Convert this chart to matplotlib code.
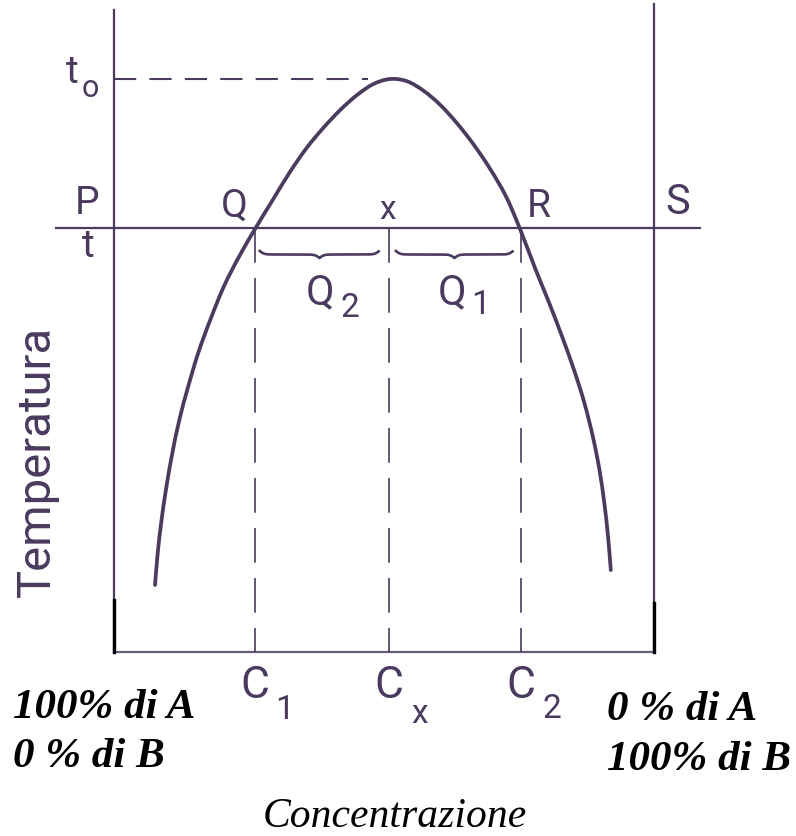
import numpy as np
import matplotlib.pyplot as plt
from matplotlib.path import Path
from matplotlib.patches import PathPatch

plt.rcParams['lines.scale_dashes'] = False

# solubility curve (concentration of B in %, temperature with t0 = 100)
curve_conc = [7.6, 8.1, 8.8, 9.7, 10.8, 12.1, 13.7, 15.6, 17.8, 20.3, 23.1, 26.1,
              29.4, 32.6, 35.7, 38.7, 41.9, 45.0, 48.0, 51.1, 54.3, 57.4, 60.4,
              63.5, 66.5, 69.6, 72.6, 75.2, 78.1, 80.6, 83.0, 85.2, 87.1, 88.7,
              89.9, 90.8, 91.5, 92.0]
curve_temp = [11.7, 17.3, 23.0, 28.8, 34.7, 40.5, 46.2, 52.2, 57.9, 63.7, 68.9, 73.8,
              78.9, 83.8, 88.0, 91.4, 94.6, 97.2, 99.1, 100.0, 99.6, 97.9, 95.5,
              92.3, 88.7, 84.4, 79.5, 73.8, 66.7, 60.9, 55.0, 49.2, 43.5, 37.5,
              31.8, 26.0, 20.1, 14.3]

t0 = 100.0
t_level = 74.0
c_marks = [26.1, 50.9, 75.4]          # C1, Cx, C2
c_labels = [('C', '1'), ('C', 'x'), ('C', '2')]

line_col = '#4b3b5d'
text_col = '#4a3b5e'
sans = dict(family=['Roboto', 'DejaVu Sans'], weight='normal', color=text_col)
serif = dict(family=['Liberation Serif', 'DejaVu Serif'], color='black')

fig = plt.figure(figsize=(7.96, 8.36), dpi=100)
ax = fig.add_axes([0, 0, 1, 1])
ax.set_xlim(-21.11, 126.30)
ax.set_ylim(-32.11, 113.79)
ax.axis('off')

# frame: two verticals, bottom line, black feet
ax.plot([0, 0], [0, 112.0], color=line_col, lw=1.6)
ax.plot([100, 100], [0, 113.1], color=line_col, lw=1.6)
ax.plot([0, 100], [0, 0], color='#6a5c78', lw=1.6)
ax.plot([0, 0], [0, 9.0], color='black', lw=2.4)
ax.plot([100, 100], [0, 8.6], color='black', lw=2.4)

# isotherm t and t0
ax.plot([-10.7, 108.5], [t_level, t_level], color=line_col, lw=1.6)
ax.plot([0, 47.0], [t0, t0], color=line_col, lw=1.5, dashes=(16, 9.5))

# dashed drops to the concentration axis
for c in c_marks:
    ax.plot([c, c], [t_level, 0], color=line_col, lw=1.2, dashes=(25, 11))

# curve, drawn as a smooth Bezier path through the read points
pts = np.column_stack([curve_conc, curve_temp])
verts = [pts[0]]
codes = [Path.MOVETO]
for i in range(len(pts) - 1):
    p0 = pts[max(i - 1, 0)]
    p1, p2 = pts[i], pts[i + 1]
    p3 = pts[min(i + 2, len(pts) - 1)]
    verts += [p1 + (p2 - p0) / 6, p2 - (p3 - p1) / 6, p2]
    codes += [Path.CURVE4] * 3
ax.add_patch(PathPatch(Path(verts, codes), fill=False, edgecolor=line_col,
                       lw=2.7, capstyle='round'))


def brace(x0, x1, ytop, depth, beta=2.5):
    n = 200
    x = np.linspace(x0, x1, n)
    xh = x[:n // 2 + 1]
    yh = 1 / (1 + np.exp(-beta * (xh - xh[0]))) + 1 / (1 + np.exp(-beta * (xh - xh[-1])))
    y = np.concatenate((yh, yh[-2::-1]))[:n]
    ax.plot(x, ytop - (y - 0.5) * depth, color=line_col, lw=1.9)


brace(27.0, 49.0, 70.0, 1.25)
brace(52.2, 73.8, 70.0, 1.25)

# letters
ax.text(-7.8, 101.2, 't', fontsize=28, ha='center', va='center', **sans)
ax.text(-4.3, 98.4, 'o', fontsize=22, ha='center', va='center', **sans)
ax.text(-5.0, 78.2, 'P', fontsize=28, ha='center', va='center', **sans)
ax.text(-4.8, 70.7, 't', fontsize=28, ha='center', va='center', **sans)
ax.text(22.2, 77.8, 'Q', fontsize=28, ha='center', va='center', **sans)
ax.text(50.7, 77.1, 'x', fontsize=24, ha='center', va='center', **sans)
ax.text(78.7, 77.8, 'R', fontsize=28, ha='center', va='center', **sans)
ax.text(104.4, 78.5, 'S', fontsize=30, ha='center', va='center', **sans)

ax.text(38.1, 62.7, 'Q', fontsize=30, ha='center', va='center', **sans)
ax.text(43.7, 60.0, '2', fontsize=24, ha='center', va='center', **sans)
ax.text(62.6, 62.7, 'Q', fontsize=30, ha='center', va='center', **sans)
ax.text(67.8, 60.6, '1', fontsize=24, ha='center', va='center', **sans)

sub_dx = [5.4, 5.6, 5.6]
sub_dy = [-10.1, -10.8, -9.9]
for c, (main, sub), dx, dy in zip(c_marks, c_labels, sub_dx, sub_dy):
    ax.text(c, -5.9, main, fontsize=32, ha='center', va='center', **sans)
    ax.text(c + dx, dy, sub, fontsize=24, ha='center', va='center', **sans)

ax.text(-14.3, 33.2, 'Temperatura', fontsize=34, rotation=90,
        ha='center', va='center', **sans)

# composition labels
fig.text(13 / 796, 1 - 718 / 836, '100% di A', fontsize=31, style='italic',
         weight='bold', ha='left', va='baseline', **serif)
fig.text(13 / 796, 1 - 767 / 836, '0 % di B', fontsize=31, style='italic',
         weight='bold', ha='left', va='baseline', **serif)
fig.text(607 / 796, 1 - 720 / 836, '0 % di A', fontsize=31, style='italic',
         weight='bold', ha='left', va='baseline', **serif)
fig.text(607 / 796, 1 - 770 / 836, '100% di B', fontsize=31, style='italic',
         weight='bold', ha='left', va='baseline', **serif)
fig.text(395 / 796, 1 - 827 / 836, 'Concentrazione', fontsize=30, style='italic',
         ha='center', va='baseline', **serif)

fig.savefig('out.png', dpi=100)
